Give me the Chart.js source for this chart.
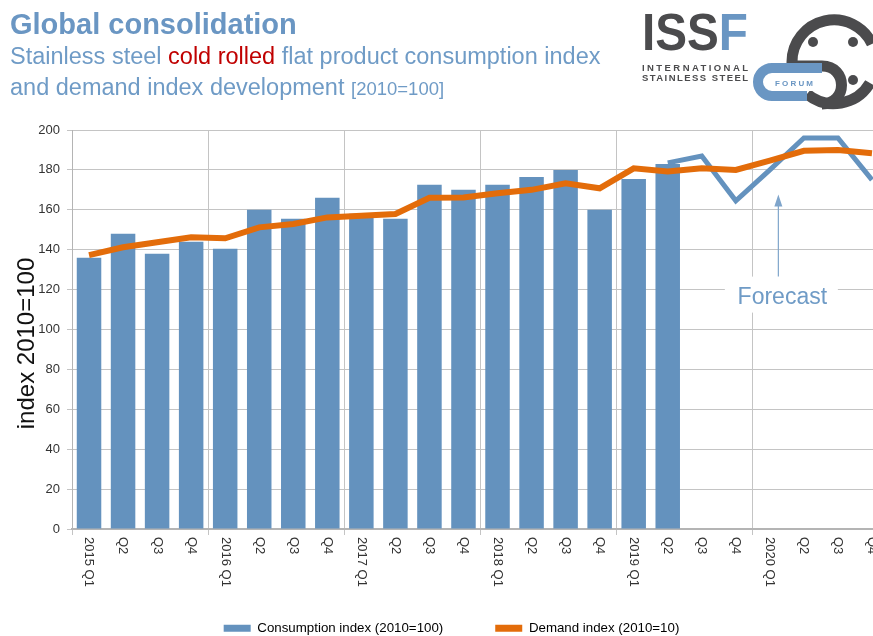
<!DOCTYPE html>
<html>
<head>
<meta charset="utf-8">
<title>Global consolidation - cold rolled index</title>
<script src="https://cdn.jsdelivr.net/npm/chart.js@4.4.1/dist/chart.umd.min.js"></script>
<style>
  html, body { margin: 0; padding: 0; width: 873px; height: 636px; overflow: hidden; background: #fff; }
  #wrap { position: absolute; left: 0; top: 0; width: 895px; height: 645px; }
  #head { position: absolute; left: 0; top: 0; font-family: "Liberation Sans", Arial, sans-serif; }
</style>
</head>
<body>
<div id="wrap"><canvas id="myChart"></canvas></div>

<svg id="head" width="873" height="118" xmlns="http://www.w3.org/2000/svg">
  <text x="10" y="34" font-weight="bold" font-size="29" fill="#6a96c3">Global consolidation</text>
  <text x="10" y="64" font-size="23.5" fill="#6f9bc6">Stainless steel <tspan fill="#c00000">cold rolled</tspan> flat product consumption index</text>
  <text x="10" y="95" font-size="23.5" fill="#6f9bc6">and demand index development <tspan font-size="18.5">[2010=100]</tspan></text>

  <!-- ISSF logo -->
  <text x="642" y="50" font-weight="bold" font-size="52" fill="#4b4b4d" textLength="106" lengthAdjust="spacingAndGlyphs">ISS<tspan fill="#6a96c3">F</tspan></text>
  <text x="642" y="71" font-weight="bold" font-size="9.5" fill="#4b4b4d" textLength="106" lengthAdjust="spacing">INTERNATIONAL</text>
  <text x="642" y="81" font-weight="bold" font-size="9.5" fill="#4b4b4d" textLength="106" lengthAdjust="spacing">STAINLESS STEEL</text>
  <g fill="none" stroke="#4b4b4d" stroke-width="11">
    <path d="M 872 44 A 42 42 0 0 0 792 62 L 792 66 L 822 66 C 848 66 848 104 822 104"/>
    <path d="M 807 94 A 42 42 0 0 0 870 83"/>
  </g>
  <circle cx="813" cy="42" r="5" fill="#4b4b4d"/>
  <circle cx="853" cy="42" r="5" fill="#4b4b4d"/>
  <circle cx="853" cy="80" r="5" fill="#4b4b4d"/>
  <path d="M 822 68 L 772 68 A 14 14 0 0 0 772 96 L 807 96" fill="none" stroke="#6a96c3" stroke-width="10"/>
  <rect x="768" y="73" width="54" height="18" rx="9" fill="#fff"/>
  <text x="775" y="85.5" font-weight="bold" font-size="8" fill="#6a96c3" textLength="38" lengthAdjust="spacing">FORUM</text>
</svg>

<script>
const categories = ['2015 Q1', 'Q2', 'Q3', 'Q4', '2016 Q1', 'Q2', 'Q3', 'Q4',
  '2017 Q1', 'Q2', 'Q3', 'Q4', '2018 Q1', 'Q2', 'Q3', 'Q4',
  '2019 Q1', 'Q2', 'Q3', 'Q4', '2020 Q1', 'Q2', 'Q3', 'Q4'];

// actual consumption (bars), then the forecast part of it (line)
const consumption = [136, 148, 138, 144, 140.5, 160, 155.5, 166,
  158, 155.5, 172.5, 170, 172.5, 176.5, 180, 160,
  175.5, 183, null, null, null, null, null, null];
const consumptionForecast = [null, null, null, null, null, null, null, null,
  null, null, null, null, null, null, null, null,
  null, 183.5, 187, 164.5, 180, 196, 196, 175];
const demand = [137.3, 141.2, 143.7, 146.2, 145.7, 151.2, 152.9, 156.2,
  157, 157.9, 166, 166.2, 168.3, 170, 173.3, 170.8,
  180.8, 179.2, 180.8, 180, 184.6, 189.6, 190, 188.3];

const yTicks = [0, 20, 40, 60, 80, 100, 120, 140, 160, 180, 200];
const seriesNames = ['Consumption index (2010=100)', 'Demand index (2010=10)'];
const yTitle = 'index 2010=100';
const forecastText = 'Forecast';

const blue = '#6492be';
const orange = '#e36c0a';
const fontFamily = '"Liberation Sans", Arial, sans-serif';

Chart.defaults.font.family = fontFamily;

// quarter labels read top-to-bottom under the axis
const quarterLabels = {
  id: 'quarterLabels',
  afterDraw(chart) {
    const ctx = chart.ctx;
    const x = chart.scales.x;
    const area = chart.chartArea;
    ctx.save();
    ctx.font = '13px ' + fontFamily;
    ctx.fillStyle = '#333';
    ctx.textAlign = 'left';
    ctx.textBaseline = 'middle';
    for (let i = 0; i < categories.length; i++) {
      ctx.save();
      ctx.translate(x.getPixelForTick(i), area.bottom + 8);
      ctx.rotate(Math.PI / 2);
      ctx.fillText(categories[i], 0, 0);
      ctx.restore();
    }
    ctx.restore();
  }
};

const axisTitle = {
  id: 'axisTitle',
  afterDraw(chart) {
    const ctx = chart.ctx;
    const area = chart.chartArea;
    ctx.save();
    ctx.translate(27, (area.top + area.bottom) / 2 + 14);
    ctx.rotate(-Math.PI / 2);
    ctx.font = '24px ' + fontFamily;
    ctx.fillStyle = '#111';
    ctx.textAlign = 'center';
    ctx.textBaseline = 'middle';
    ctx.fillText(yTitle, 0, 0);
    ctx.restore();
  }
};

// "Forecast" note with the arrow pointing up
const forecastNote = {
  id: 'forecastNote',
  afterDatasetsDraw(chart) {
    const ctx = chart.ctx;
    const x0 = chart.scales.x.getPixelForValue(20);
    const y0 = chart.scales.y.getPixelForValue(120);
    ctx.save();
    ctx.fillStyle = '#fff';
    ctx.fillRect(x0 - 45, y0 - 13, 113, 36);

    ctx.strokeStyle = '#7fa5cb';
    ctx.fillStyle = '#7fa5cb';
    ctx.lineWidth = 1.2;
    ctx.beginPath();
    ctx.moveTo(x0 + 8.5, y0 - 13);
    ctx.lineTo(x0 + 8.5, y0 - 84);
    ctx.stroke();
    ctx.beginPath();
    ctx.moveTo(x0 + 8.5, y0 - 95);
    ctx.lineTo(x0 + 4.5, y0 - 83);
    ctx.lineTo(x0 + 12.5, y0 - 83);
    ctx.closePath();
    ctx.fill();

    ctx.font = '23px ' + fontFamily;
    ctx.fillStyle = '#6f9bc6';
    ctx.textAlign = 'center';
    ctx.textBaseline = 'alphabetic';
    ctx.fillText(forecastText, x0 + 12.5, y0 + 14);
    ctx.restore();
  }
};

const ctx = document.getElementById('myChart');

new Chart(ctx, {
  type: 'bar',
  data: {
    labels: categories,
    datasets: [
      {
        type: 'bar',
        label: seriesNames[0],
        data: consumption,
        backgroundColor: blue,
        borderWidth: 0,
        barPercentage: 0.72,
        categoryPercentage: 1,
        order: 2,
      },
      {
        type: 'line',
        label: 'forecast',
        data: consumptionForecast,
        borderColor: blue,
        borderWidth: 5,
        pointRadius: 0,
        tension: 0,
        borderJoinStyle: 'miter',
        order: 1,
      },
      {
        type: 'line',
        label: seriesNames[1],
        data: demand,
        borderColor: orange,
        backgroundColor: orange,
        borderWidth: 6,
        pointRadius: 0,
        tension: 0,
        order: 0,
      },
    ],
  },
  options: {
    responsive: true,
    maintainAspectRatio: false,
    animation: false,
    layout: { padding: { top: 130, right: 6, left: 14, bottom: 0 } },
    scales: {
      x: {
        grid: {
          offset: true,
          color: (c) => (c.index % 4 === 0 ? '#c4c4c4' : 'rgba(0,0,0,0)'),
          tickLength: 6,
        },
        border: { color: '#b4b4b4', width: 2 },
        ticks: { display: false },
        afterFit: (s) => { s.height = 40.7; },
      },
      y: {
        min: yTicks[0],
        max: yTicks[yTicks.length - 1],
        ticks: {
          stepSize: yTicks[1] - yTicks[0],
          padding: 7,
          color: '#333',
          font: { size: 13 },
        },
        grid: { color: '#c4c4c4', tickLength: 5 },
        border: { color: '#b4b4b4' },
        afterFit: (s) => { s.width = 58; },
      },
    },
    plugins: {
      tooltip: { enabled: false },
      legend: {
        position: 'bottom',
        labels: {
          boxWidth: 27,
          boxHeight: 7,
          padding: 52,
          color: '#222',
          font: { size: 13.3 },
          generateLabels: () => [
            { text: seriesNames[0], fillStyle: blue, strokeStyle: blue, lineWidth: 0, datasetIndex: 0 },
            { text: seriesNames[1], fillStyle: orange, strokeStyle: orange, lineWidth: 0, datasetIndex: 2 },
          ],
        },
      },
    },
  },
  plugins: [quarterLabels, axisTitle, forecastNote],
});
</script>
</body>
</html>
